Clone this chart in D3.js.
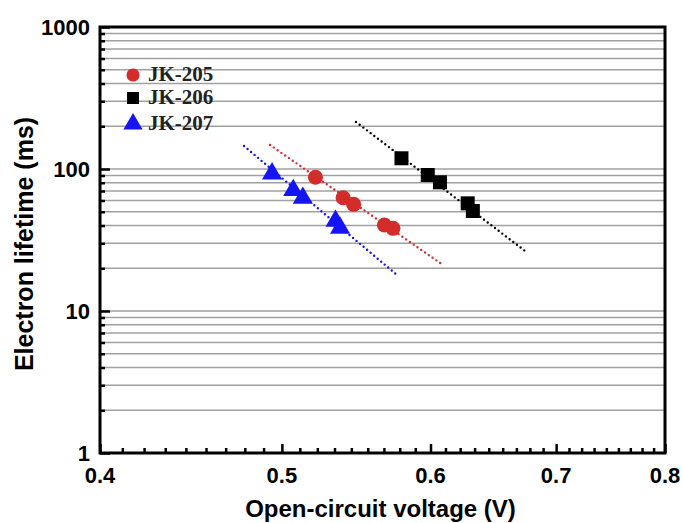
<!DOCTYPE html>
<html>
<head>
<meta charset="utf-8">
<script src="https://cdn.jsdelivr.net/npm/d3@7"></script>
<style>
  body { margin: 0; background: #fff; }
  svg { display: block; }
</style>
</head>
<body>
<script>
// data
const series = ["JK-205", "JK-206", "JK-207"]
const colors = ["#d42b2b", "#000000", "#1414f5"]
const shapes = [d3.symbolCircle, d3.symbolSquare, d3.symbolTriangle]

const vocJK205 = [0.521, 0.539, 0.546, 0.567, 0.573]
const tauJK205 = [87.4, 62.8, 56.4, 40.3, 38.2]
const vocJK206 = [0.579, 0.598, 0.607, 0.628, 0.632]
const tauJK206 = [119, 90.7, 80.6, 57.3, 50.6]
const vocJK207 = [0.494, 0.507, 0.513, 0.534, 0.537]
const tauJK207 = [92.7, 70.8, 62.5, 43.0, 38.4]

// dotted fit lines: [start, end] in (V, ms)
const fitJK205 = [[0.4928, 147.6], [0.6083, 21.4]]
const fitJK206 = [[0.5476, 214.3], [0.6745, 26.2]]
const fitJK207 = [[0.4773, 145.2], [0.5768, 17.6]]

const xTickValues = [0.4, 0.5, 0.6, 0.7, 0.8]
const yTickValues = [1, 10, 100, 1000]

const xTitle = "Open-circuit voltage (V)"
const yTitle = "Electron lifetime (ms)"

const width = 683, height = 523
const plotLeft = 100, plotRight = 665, plotTop = 27, plotBottom = 453

let svg = d3.select("body")
    .append("svg")
    .attr("width", width)
    .attr("height", height)

svg.append("rect")
    .attr("width", width)
    .attr("height", height)
    .style("fill", "#fff")

let xScale = d3.scaleLog().domain([0.4, 0.8]).range([plotLeft, plotRight])
let yScale = d3.scaleLog().domain([1, 1000]).range([plotBottom, plotTop])

// horizontal grid at every log step
let gridValues = []
for (let d = 1; d < 1000; d *= 10) {
    for (let k = 1; k < 10; k++) {
        let v = d * k
        if (v > 1) gridValues.push(v)
    }
}
svg.append("g")
    .selectAll("line")
    .data(gridValues)
    .join("line")
    .attr("x1", plotLeft)
    .attr("x2", plotRight)
    .attr("y1", d => yScale(d))
    .attr("y2", d => yScale(d))
    .style("stroke", "#a0a0a0")
    .style("stroke-width", 1.4)

// y axis ticks (inward)
let yMinor = gridValues.filter(v => !yTickValues.includes(v))
let yAxis = d3.axisRight(yScale)
    .tickValues(yMinor)
    .tickSize(5)
    .tickFormat("")
let gy = svg.append("g").attr("transform", `translate(${plotLeft},0)`).call(yAxis)
let yAxisMajor = d3.axisRight(yScale)
    .tickValues(yTickValues)
    .tickSize(10)
    .tickFormat("")
let gy2 = svg.append("g").attr("transform", `translate(${plotLeft},0)`).call(yAxisMajor)
;[gy, gy2].forEach(g => {
    g.select(".domain").remove()
    g.selectAll("line").style("stroke", "#000").style("stroke-width", 2.5)
})

// x axis ticks (inward): 8 minor ticks between majors
let xMinor = []
for (let i = 0; i < xTickValues.length - 1; i++) {
    let a = xTickValues[i], b = xTickValues[i + 1]
    for (let k = 1; k <= 8; k++) xMinor.push(a + (b - a) * k / 9)
}
let xAxis = d3.axisTop(xScale).tickValues(xMinor).tickSize(5).tickFormat("")
let gx = svg.append("g").attr("transform", `translate(0,${plotBottom})`).call(xAxis)
let xAxisMajor = d3.axisTop(xScale).tickValues(xTickValues).tickSize(9).tickFormat("")
let gx2 = svg.append("g").attr("transform", `translate(0,${plotBottom})`).call(xAxisMajor)
;[gx, gx2].forEach(g => {
    g.select(".domain").remove()
    g.selectAll("line").style("stroke", "#000").style("stroke-width", 2.5)
})

// frame
svg.append("rect")
    .attr("x", plotLeft)
    .attr("y", plotTop)
    .attr("width", plotRight - plotLeft)
    .attr("height", plotBottom - plotTop)
    .style("fill", "none")
    .style("stroke", "#000")
    .style("stroke-width", 3)

// tick labels
svg.append("g")
    .selectAll("text")
    .data(yTickValues)
    .join("text")
    .attr("x", plotLeft - 10)
    .attr("y", d => yScale(d))
    .attr("dy", "0.36em")
    .attr("text-anchor", "end")
    .style("font-family", "'Liberation Sans', Arial, sans-serif")
    .style("font-weight", "bold")
    .style("font-size", "22px")
    .text(d => d)

svg.append("g")
    .selectAll("text")
    .data(xTickValues)
    .join("text")
    .attr("x", d => xScale(d))
    .attr("y", plotBottom + 30)
    .attr("text-anchor", "middle")
    .style("font-family", "'Liberation Sans', Arial, sans-serif")
    .style("font-weight", "bold")
    .style("font-size", "22px")
    .text(d => d.toFixed(1))

// axis titles
svg.append("text")
    .attr("x", (plotLeft + plotRight) / 2 - 2)
    .attr("y", 517)
    .attr("text-anchor", "middle")
    .style("font-family", "'Liberation Sans', Arial, sans-serif")
    .style("font-weight", "bold")
    .style("font-size", "24px")
    .text(xTitle)

svg.append("text")
    .attr("transform", `translate(33,${(plotTop + plotBottom) / 2 + 4}) rotate(-90)`)
    .attr("text-anchor", "middle")
    .style("font-family", "'Liberation Sans', Arial, sans-serif")
    .style("font-weight", "bold")
    .style("font-size", "25px")
    .text(yTitle)

// dotted fits
let lineFunction = d3.line()
    .x(d => xScale(d[0]))
    .y(d => yScale(d[1]))

let fits = [fitJK205, fitJK206, fitJK207]
fits.forEach((f, i) => {
    svg.append("path")
        .attr("d", lineFunction(f))
        .style("fill", "none")
        .style("stroke", colors[i])
        .style("stroke-width", 2.4)
        .style("stroke-dasharray", "0,4.6")
        .style("stroke-linecap", "round")
})

// markers
let pointSets = [
    d3.zip(vocJK205, tauJK205),
    d3.zip(vocJK206, tauJK206),
    d3.zip(vocJK207, tauJK207)
]
let markerSize = [177, 196, 175]
pointSets.forEach((pts, i) => {
    svg.append("g")
        .selectAll("path")
        .data(pts)
        .join("path")
        .attr("transform", d => `translate(${xScale(d[0])},${yScale(d[1])})`)
        .attr("d", d3.symbol().type(shapes[i]).size(markerSize[i]))
        .style("fill", colors[i])
})

// legend
let legendY = [75, 98, 124]
let legendSize = [135, 144, 160]
let legend = svg.append("g")
series.forEach((name, i) => {
    legend.append("path")
        .attr("transform", `translate(133,${legendY[i]})`)
        .attr("d", d3.symbol().type(shapes[i]).size(legendSize[i]))
        .style("fill", colors[i])
    legend.append("text")
        .attr("x", 148)
        .attr("y", legendY[i] + 6)
        .style("font-family", "'Liberation Serif', 'Times New Roman', serif")
        .style("font-weight", "bold")
        .style("font-size", "21px")
        .style("fill", "#222")
        .text(name)
})
</script>
</body>
</html>
